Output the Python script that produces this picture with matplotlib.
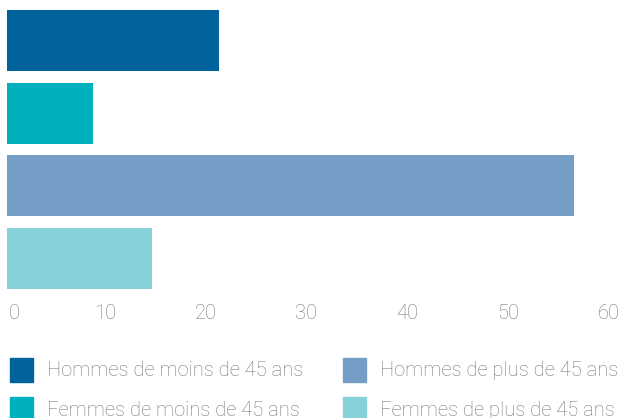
import matplotlib.pyplot as plt
import matplotlib.transforms as mtransforms
from matplotlib.patches import Rectangle

# data
categories = ["Hommes de moins de 45 ans", "Femmes de moins de 45 ans",
              "Hommes de plus de 45 ans", "Femmes de plus de 45 ans"]
values = [21, 8.5, 56.2, 14.4]
colors = ["#00639c", "#00b0bd", "#749ec6", "#87d2da"]
xticks = [0, 10, 20, 30, 40, 50, 60]

W, H = 624, 418
text_color = "#787878"
plt.rcParams['font.family'] = ['Roboto', 'DejaVu Sans']

fig = plt.figure(figsize=(W / 100, H / 100), dpi=100)
# axes placed in pixel terms: bars from x=7 to 60 at x=612, y 10..289
ax = fig.add_axes([7 / W, 1 - 289 / H, (612 - 7) / W, (289 - 10) / H])

ypos = list(range(len(values)))
ax.barh(ypos, values, height=0.84, color=colors)
ax.set_ylim(3.42, -0.42)
ax.set_xlim(0, 60)

ax.set_xticks(xticks)
ax.set_xticklabels([str(t) for t in xticks], fontweight='light')
ax.tick_params(axis='x', length=0, pad=11, labelsize=14.5, labelcolor=text_color)
ax.set_yticks([])
for s in ax.spines.values():
    s.set_visible(False)

# small nudges so labels sit where the original has them
for i, lab in enumerate(ax.get_xticklabels()):
    dx = 7 if i == 0 else -3
    lab.set_transform(lab.get_transform() +
                      mtransforms.ScaledTranslation(dx / 100, 0, fig.dpi_scale_trans))

# legend, two columns
leg_x = [10, 343]
leg_y = [358, 397]
for i, (lab, col) in enumerate(zip(categories, colors)):
    col_i = 0 if i in (0, 1) else 1
    row_i = 0 if i in (0, 2) else 1
    x0, y0 = leg_x[col_i], leg_y[row_i]
    fig.patches.append(Rectangle((x0 / W, 1 - (y0 + 24) / H), 23 / W, 24 / H,
                                 transform=fig.transFigure, color=col))
    fig.text((x0 + 37) / W, 1 - (y0 + 13) / H, lab, color=text_color,
             fontsize=14.5, fontweight='light', va='center', ha='left')

fig.savefig("out.png", dpi=100)
